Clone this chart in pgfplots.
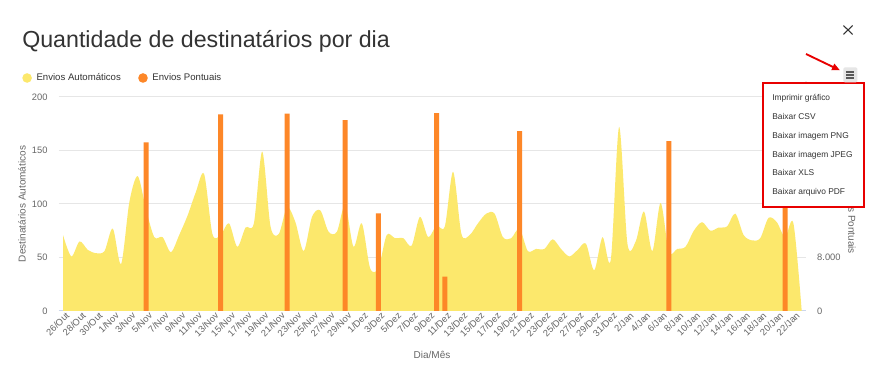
\documentclass[border=0pt]{standalone}
\usepackage{fontspec}
\setmainfont{Liberation Sans}
\usepackage{pgfplots}
\pgfplotsset{compat=1.18}
\usetikzlibrary{arrows.meta}
\definecolor{areac}{RGB}{252,232,108}
\definecolor{barc}{RGB}{253,135,40}
\definecolor{gridc}{RGB}{230,230,230}
\definecolor{axisc}{RGB}{204,214,235}
\definecolor{txt}{RGB}{51,51,51}
\definecolor{lab}{RGB}{102,102,102}
\definecolor{menured}{RGB}{232,0,0}
\newcommand{\fs}[1]{\fontsize{#1}{#1}\selectfont}

\pgfplotstableread{
x y
0 71
1 51
2 65
3 57
4 54
5 56
6 77
7 44
8 102
9 126
10 95
11 69
12 69
13 55
14 71
15 89
16 111
17 128
18 72
19 71
20 82
21 60
22 78
23 82
24 149
25 79
26 72
27 97
28 83
29 56
30 88
31 94
32 74
33 74
34 99
35 60
36 82
37 40
38 40
39 71
40 68
41 68
42 61
43 88
44 69
45 80
46 79
47 130
48 72
49 71
50 82
51 91
52 91
53 69
54 68
55 77
56 56
57 58
58 58
59 67
60 58
61 51
62 57
63 63
64 38
65 69
66 48
67 172
68 63
69 65
70 93
71 56
72 101
73 55
74 58
75 60
76 75
77 83
78 75
79 78
80 79
81 91
82 71
83 66
84 68
85 87
86 83
87 69
88 82
89 0
}\autotable

\pgfplotstableread{
x y
10 25200
19 29400
27 29500
34 28550
38 14600
45 29600
46 5150
55 26900
73 25400
87 25000
}\pontuais

\begin{document}
\begin{tikzpicture}
\path[use as bounding box, fill=white] (0pt,0pt) rectangle (660.75pt,279.75pt);

% title and close icon
\node[anchor=base west, inner sep=0pt, text=txt, font=\fs{17.4pt}] at (16.5pt,243.75pt) {Quantidade de destinatários por dia};
\draw[txt, line width=0.8pt] (632.6pt,260.6pt) -- (639.4pt,253.9pt);
\draw[txt, line width=0.8pt] (632.6pt,253.9pt) -- (639.4pt,260.6pt);

\begin{axis}[
  at={(44.14pt,46.5pt)}, anchor=south west,
  scale only axis, width=560.25pt, height=160.5pt,
  xmin=-0.5, xmax=89.5, ymin=0, ymax=200,
  axis x line*=bottom, axis y line*=left,
  y axis line style={draw=none},
  x axis line style={axisc, line width=0.75pt},
  ytick={0,50,100,150,200}, yticklabels={0,50,100,150,200},
  ymajorgrids, grid style={gridc, line width=0.75pt},
  xtick={0,2,...,88},
  xticklabels={26/Out,28/Out,30/Out,1/Nov,3/Nov,5/Nov,7/Nov,9/Nov,11/Nov,13/Nov,15/Nov,17/Nov,19/Nov,21/Nov,23/Nov,25/Nov,27/Nov,29/Nov,1/Dez,3/Dez,5/Dez,7/Dez,9/Dez,11/Dez,13/Dez,15/Dez,17/Dez,19/Dez,21/Dez,23/Dez,25/Dez,27/Dez,29/Dez,31/Dez,2/Jan,4/Jan,6/Jan,8/Jan,10/Jan,12/Jan,14/Jan,16/Jan,18/Jan,20/Jan,22/Jan},
  major tick length=0pt,
  tick label style={font=\fs{7pt}, text=lab},
  yticklabel style={anchor=east, xshift=-5pt},
  xticklabel style={rotate=45, anchor=east, inner sep=0pt, yshift=-4pt, xshift=1pt},
  legend image code/.code={\fill[#1] (0pt,0pt) circle (3.6pt);},
  legend style={at={(-0.0493,1.0888)}, anchor=west, draw=none, fill=none,
    font=\fs{7.2pt}, text=txt, inner sep=0pt,
    /tikz/every odd column/.append style={column sep=1.5pt},
    /tikz/every even column/.append style={column sep=11pt}},
  legend columns=2, legend cell align=left,
]
\addplot[fill=areac, draw=none, smooth] table[x=x,y=y] {\autotable} \closedcycle;
\addlegendentry{Envios Automáticos}
\addlegendimage{fill=barc, draw=none}
\addlegendentry{Envios Pontuais}
\end{axis}

\begin{axis}[
  at={(44.14pt,46.5pt)}, anchor=south west,
  scale only axis, width=560.25pt, height=160.5pt,
  xmin=-0.5, xmax=89.5, ymin=0, ymax=32000,
  axis y line*=right, axis x line=none,
  y axis line style={draw=none},
  xtick=\empty,
  ytick={0,8000,16000,24000,32000}, yticklabels={0,{8.000},{16.000},{24.000},{32.000}},
  major tick length=0pt,
  tick label style={font=\fs{7pt}, text=lab},
  yticklabel style={anchor=west, xshift=5pt},
  ybar, bar width=3.75pt,
]
\addplot[fill=barc, draw=none] table[x=x,y=y] {\pontuais};
\end{axis}

% axis titles
\node[rotate=90, text=lab, font=\fs{7.5pt}] at (16.5pt,126.75pt) {Destinatários Automáticos};
\node[rotate=-90, text=lab, font=\fs{7.5pt}] at (639pt,126.75pt) {Destinatários Pontuais};
\node[text=lab, font=\fs{7.5pt}] at (324pt,13.5pt) {Dia/Mês};

% export menu overlay
\draw[menured, line width=1.7pt, fill=white] (572.25pt,217.5pt) rectangle (648pt,124.5pt);
\begin{scope}[every node/.style={anchor=west, inner sep=0pt, text=txt, font=\fs{6.3pt}}]
\node at (579pt,206.25pt) {Imprimir gráfico};
\node at (579pt,192pt) {Baixar CSV};
\node at (579pt,177.75pt) {Baixar imagem PNG};
\node at (579pt,163.5pt) {Baixar imagem JPEG};
\node at (579pt,150pt) {Baixar XLS};
\node at (579pt,135.75pt) {Baixar arquivo PDF};
\end{scope}
% hamburger button
\fill[gridc, rounded corners=1pt] (632.5pt,229.25pt) rectangle (643pt,218pt);
\draw[black!65, line width=1.4pt] (634.75pt,225.75pt) -- (640.75pt,225.75pt);
\draw[black!65, line width=1.4pt] (634.75pt,223.5pt) -- (640.75pt,223.5pt);
\draw[black!65, line width=1.4pt] (634.75pt,221.25pt) -- (640.75pt,221.25pt);
% red arrow
\draw[menured, line width=1.4pt, -{Triangle[length=6pt,width=5pt]}] (604.5pt,239.25pt) -- (630pt,227pt);
\end{tikzpicture}
\end{document}
